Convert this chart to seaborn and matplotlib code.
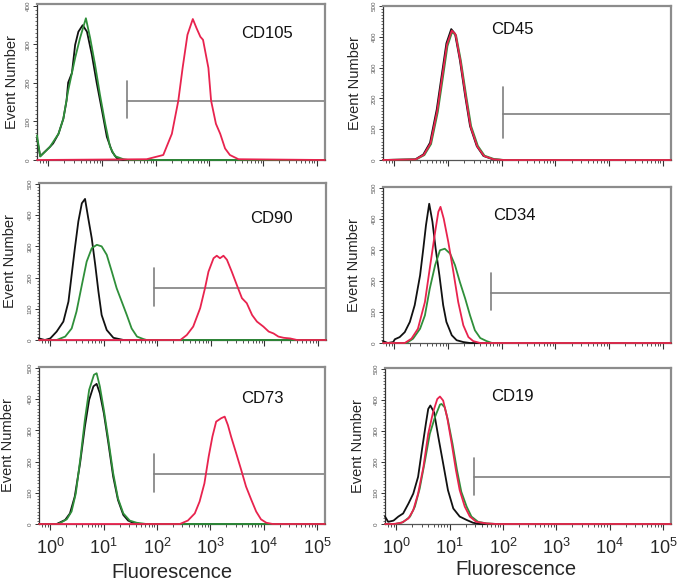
import numpy as np
import pandas as pd
import matplotlib
matplotlib.use("Agg")
import matplotlib.pyplot as plt
import seaborn as sns
from matplotlib.ticker import FixedLocator, LogLocator, NullFormatter, MultipleLocator

sns.set_theme(style="white")
plt.rcParams["font.family"] = ["Liberation Sans", "DejaVu Sans"]
plt.rcParams["mathtext.fontset"] = "custom"
plt.rcParams["mathtext.rm"] = "Liberation Sans"
plt.rcParams["mathtext.it"] = "Liberation Sans:italic"
plt.rcParams["mathtext.bf"] = "Liberation Sans:bold"

# ---------------- data (log10 fluorescence, event counts) ----------------
markers = ["CD105", "CD45", "CD90", "CD34", "CD73", "CD19"]
y_max = [405, 500, 503, 503, 503, 503]
decade_exps = [0, 1, 2, 3, 4, 5]
x_tick_labels = ["$10^{0}$", "$10^{1}$", "$10^{2}$", "$10^{3}$", "$10^{4}$", "$10^{5}$"]

# CD105
cd105_black_log = [-0.21, -0.15, 0.03, 0.09, 0.19, 0.28, 0.34, 0.37, 0.44, 0.50, 0.56, 0.64, 0.72, 0.81, 0.90, 1.00, 1.09, 1.19, 1.28, 1.40, 5.15]
cd105_black_cnt = [55, 10, 34, 43, 68, 107, 154, 201, 226, 299, 333, 350, 333, 274, 201, 128, 60, 21, 4, 0, 0]
cd105_green_log = [-0.21, -0.15, 0.03, 0.19, 0.28, 0.37, 0.50, 0.59, 0.70, 0.78, 0.87, 0.96, 1.06, 1.15, 1.24, 1.40, 1.49, 5.15]
cd105_green_cnt = [64, 9, 34, 68, 107, 180, 265, 316, 368, 316, 248, 171, 94, 34, 10, 2, 0, 0]
cd105_red_log = [-0.21, 1.83, 2.14, 2.30, 2.42, 2.50, 2.59, 2.69, 2.76, 2.83, 2.88, 2.98, 3.03, 3.12, 3.20, 3.29, 3.38, 3.54, 5.15]
cd105_red_cnt = [0, 2, 13, 68, 154, 239, 325, 366, 342, 320, 312, 239, 154, 94, 68, 30, 13, 2, 0]

# CD45
cd45_black_log = [-0.21, 0.39, 0.54, 0.665, 0.79, 0.88, 0.97, 1.06, 1.13, 1.22, 1.32, 1.41, 1.535, 1.66, 1.84, 2.03, 5.15]
cd45_black_cnt = [0, 2, 18, 56, 164, 272, 379, 425, 410, 325, 207, 110, 45, 13, 2, 0, 0]
cd45_green_log = [-0.21, 0.41, 0.56, 0.685, 0.81, 0.90, 0.99, 1.075, 1.15, 1.24, 1.34, 1.43, 1.555, 1.68, 1.86, 2.05, 5.15]
cd45_green_cnt = [0, 2, 16, 52, 156, 262, 370, 415, 405, 322, 207, 110, 46, 14, 3, 0, 0]
cd45_red_log = [-0.21, 0.40, 0.55, 0.675, 0.80, 0.89, 0.98, 1.07, 1.14, 1.23, 1.33, 1.42, 1.545, 1.67, 1.85, 2.04, 5.15]
cd45_red_cnt = [0, 2, 17, 54, 160, 268, 375, 420, 408, 322, 205, 108, 44, 13, 2, 0, 0]

# CD90
cd90_black_log = [-0.21, -0.10, 0.00, 0.12, 0.245, 0.34, 0.40, 0.46, 0.525, 0.59, 0.65, 0.71, 0.775, 0.84, 0.90, 0.96, 1.055, 1.18, 1.37, 5.15]
cd90_black_cnt = [5, 0, 5, 27, 59, 123, 209, 294, 380, 438, 452, 390, 326, 241, 155, 80, 32, 7, 0, 0]
cd90_green_log = [-0.21, 0.12, 0.28, 0.40, 0.49, 0.59, 0.68, 0.775, 0.87, 0.96, 1.055, 1.15, 1.24, 1.335, 1.43, 1.52, 1.62, 1.74, 1.80, 5.15]
cd90_green_cnt = [0, 0, 11, 37, 91, 176, 251, 294, 305, 300, 273, 219, 166, 123, 80, 37, 11, 3, 0, 0]
cd90_red_log = [-0.21, 2.43, 2.55, 2.67, 2.80, 2.89, 2.955, 3.05, 3.11, 3.17, 3.235, 3.30, 3.39, 3.485, 3.58, 3.67, 3.77, 3.86, 3.98, 4.08, 4.17, 4.26, 4.36, 4.48, 4.61, 5.15]
cd90_red_cnt = [0, 0, 16, 43, 102, 166, 219, 262, 270, 262, 270, 257, 219, 176, 134, 118, 80, 59, 43, 27, 21, 11, 7, 5, 0, 0]

# CD34
cd34_black_log = [-0.21, -0.12, -0.02, 0.01, 0.10, 0.195, 0.29, 0.38, 0.48, 0.54, 0.59, 0.65, 0.71, 0.77, 0.84, 0.91, 0.97, 1.07, 1.16, 1.285, 1.41, 5.15]
cd34_black_cnt = [6, 0, 3, 12, 19, 35, 68, 122, 218, 304, 380, 449, 391, 304, 218, 122, 68, 25, 9, 3, 0, 0]
cd34_green_log = [-0.21, 0.23, 0.35, 0.48, 0.57, 0.66, 0.76, 0.85, 0.94, 1.04, 1.13, 1.22, 1.32, 1.41, 1.50, 1.60, 1.72, 1.82, 5.15]
cd34_green_cnt = [0, 0, 14, 46, 89, 175, 251, 299, 304, 288, 251, 197, 143, 89, 41, 16, 6, 0, 0]
cd34_red_log = [-0.21, 0.195, 0.32, 0.44, 0.57, 0.66, 0.76, 0.82, 0.86, 0.92, 1.005, 1.10, 1.19, 1.285, 1.38, 1.47, 1.60, 5.15]
cd34_red_cnt = [0, 0, 14, 46, 132, 240, 358, 423, 439, 401, 326, 229, 132, 57, 19, 6, 0, 0]

# CD73
cd73_black_log = [-0.21, 0.12, 0.28, 0.37, 0.46, 0.56, 0.65, 0.73, 0.81, 0.87, 0.93, 1.005, 1.09, 1.18, 1.27, 1.37, 1.46, 1.55, 1.68, 5.15]
cd73_black_cnt = [0, 0, 13, 34, 88, 195, 312, 398, 441, 449, 419, 355, 259, 152, 77, 29, 11, 4, 0, 0]
cd73_green_log = [-0.21, 0.15, 0.31, 0.40, 0.48, 0.57, 0.65, 0.73, 0.82, 0.87, 0.93, 1.005, 1.09, 1.18, 1.27, 1.37, 1.49, 1.62, 1.80, 5.15]
cd73_green_cnt = [0, 0, 15, 40, 98, 216, 334, 430, 478, 483, 441, 366, 270, 163, 82, 34, 11, 4, 0, 0]
cd73_red_log = [-0.21, 2.43, 2.58, 2.71, 2.80, 2.89, 2.97, 3.04, 3.11, 3.205, 3.27, 3.33, 3.39, 3.485, 3.58, 3.67, 3.77, 3.86, 3.95, 4.05, 4.17, 5.15]
cd73_red_cnt = [0, 0, 11, 34, 72, 130, 216, 280, 328, 339, 344, 317, 280, 227, 173, 120, 77, 40, 15, 4, 0, 0]

# CD19
cd19_black_log = [-0.21, -0.15, -0.05, 0.04, 0.13, 0.23, 0.32, 0.41, 0.49, 0.56, 0.60, 0.64, 0.71, 0.79, 0.88, 0.97, 1.07, 1.19, 1.32, 1.44, 1.57, 5.15]
cd19_black_cnt = [24, 7, 11, 24, 34, 66, 98, 152, 248, 328, 371, 382, 360, 280, 195, 109, 50, 24, 13, 4, 0, 0]
cd19_green_log = [-0.21, -0.02, 0.13, 0.26, 0.35, 0.44, 0.54, 0.63, 0.725, 0.82, 0.85, 0.91, 0.97, 1.055, 1.14, 1.22, 1.32, 1.41, 1.535, 1.69, 1.88, 5.15]
cd19_green_cnt = [0, 0, 6, 24, 56, 114, 205, 291, 344, 385, 387, 376, 334, 259, 173, 104, 56, 24, 7, 2, 0, 0]
cd19_red_log = [-0.21, -0.05, 0.10, 0.23, 0.32, 0.41, 0.51, 0.60, 0.69, 0.77, 0.82, 0.88, 0.955, 1.04, 1.12, 1.19, 1.285, 1.38, 1.50, 1.69, 1.88, 5.15]
cd19_red_cnt = [0, 0, 4, 18, 45, 98, 184, 291, 360, 403, 411, 398, 344, 259, 173, 109, 56, 24, 7, 2, 0, 0]

# gates: start (log10), level, bar low, bar high
gate_start = [1.46, 2.03, 1.94, 1.80, 1.945, 1.46]
gate_level = [154, 148, 166, 162, 159, 150]
gate_low = [109, 72, 109, 105, 104, 93]
gate_high = [205, 237, 230, 227, 225, 214]

curves = {
    "CD105": [(cd105_black_log, cd105_black_cnt), (cd105_green_log, cd105_green_cnt), (cd105_red_log, cd105_red_cnt)],
    "CD45": [(cd45_black_log, cd45_black_cnt), (cd45_green_log, cd45_green_cnt), (cd45_red_log, cd45_red_cnt)],
    "CD90": [(cd90_black_log, cd90_black_cnt), (cd90_green_log, cd90_green_cnt), (cd90_red_log, cd90_red_cnt)],
    "CD34": [(cd34_black_log, cd34_black_cnt), (cd34_green_log, cd34_green_cnt), (cd34_red_log, cd34_red_cnt)],
    "CD73": [(cd73_black_log, cd73_black_cnt), (cd73_green_log, cd73_green_cnt), (cd73_red_log, cd73_red_cnt)],
    "CD19": [(cd19_black_log, cd19_black_cnt), (cd19_green_log, cd19_green_cnt), (cd19_red_log, cd19_red_cnt)],
}
samples = ["black", "green", "red"]
palette = {"black": "#111111", "green": "#2f8f3a", "red": "#e8234e"}

# ---------------- layout ----------------
W, H = 678, 582
fig = plt.figure(figsize=(W / 100, H / 100), dpi=100)

# pixel boxes: (left, top, right, bottom)
boxes = [
    (37, 4, 325, 160), (383, 6, 671, 160),
    (39, 183, 326, 340), (383, 187, 671, 343),
    (39, 367, 325, 524), (385, 368, 671, 524),
]
label_pos = [(0.80, 0.81), (0.45, 0.845), (0.81, 0.775), (0.455, 0.816), (0.78, 0.80), (0.447, 0.815)]
ylabel_x = [-0.087, -0.097, -0.10, -0.10, -0.108, -0.094]

x_lo, x_hi = 10 ** -0.21, 10 ** 5.15

for i, name in enumerate(markers):
    l, t, r, b = boxes[i]
    ax = fig.add_axes([l / W, 1 - b / H, (r - l) / W, (b - t) / H])
    frames = []
    for s, (lg, ct) in zip(samples, curves[name]):
        frames.append(pd.DataFrame({"fluor": np.power(10.0, lg), "count": ct, "sample": s}))
    df = pd.concat(frames, ignore_index=True)
    sns.lineplot(data=df, x="fluor", y="count", hue="sample", hue_order=samples,
                 palette=palette, estimator=None, sort=False, legend=False,
                 linewidth=1.3, ax=ax, clip_on=False, zorder=3)

    ax.set_xscale("log")
    ax.set_xlim(x_lo, x_hi)
    ax.set_ylim(0, y_max[i])

    # gate marker
    gx = 10 ** gate_start[i]
    ax.plot([gx, x_hi], [gate_level[i], gate_level[i]], color="#7f7f7f", lw=1.2, zorder=2)
    ax.plot([gx, gx], [gate_low[i], gate_high[i]], color="#7f7f7f", lw=1.2, zorder=2)

    ax.text(label_pos[i][0], label_pos[i][1], name, transform=ax.transAxes,
            ha="center", va="center", fontsize=12, color="#111111")

    # spines
    for sp in ["top", "right"]:
        ax.spines[sp].set_color("#8c8c8c")
        ax.spines[sp].set_linewidth(1.6)
    ax.spines["left"].set_color("#333333")
    ax.spines["left"].set_linewidth(0.9)
    ax.spines["bottom"].set_color("#555555")
    ax.spines["bottom"].set_linewidth(0.9)

    # ticks
    ax.xaxis.set_major_locator(FixedLocator([10.0 ** e for e in decade_exps]))
    ax.xaxis.set_minor_locator(LogLocator(base=10, subs=np.arange(2, 10), numticks=20))
    ax.xaxis.set_minor_formatter(NullFormatter())
    ax.yaxis.set_major_locator(MultipleLocator(100))
    ax.yaxis.set_minor_locator(MultipleLocator(10))
    ax.tick_params(axis="x", which="major", direction="out", length=4, width=0.8,
                   color="#333333", bottom=True, pad=6, labelsize=13)
    ax.tick_params(axis="x", which="minor", direction="out", length=2, width=0.6,
                   color="#333333", bottom=True)
    ax.tick_params(axis="y", which="major", direction="out", length=3, width=0.7,
                   color="#333333", left=True, pad=1.5, labelsize=4.5, labelcolor="#555555")
    ax.tick_params(axis="y", which="minor", direction="out", length=1.3, width=0.5,
                   color="#333333", left=True)
    for lab in ax.get_yticklabels():
        lab.set_rotation(90)
        lab.set_va("center")

    if i >= 4:
        ax.set_xticklabels(x_tick_labels)
        ax.set_xlabel("Fluorescence", fontsize=14.5, va="center")
        ax.xaxis.set_label_coords(0.465 if i == 4 else 0.458, -0.306 if i == 4 else -0.293)
    else:
        ax.set_xticklabels([])
        ax.set_xlabel("")

    ax.set_ylabel("Event Number", fontsize=10.5, va="center")
    ax.yaxis.set_label_coords(ylabel_x[i], 0.5)

fig.savefig("out.png", dpi=100)
